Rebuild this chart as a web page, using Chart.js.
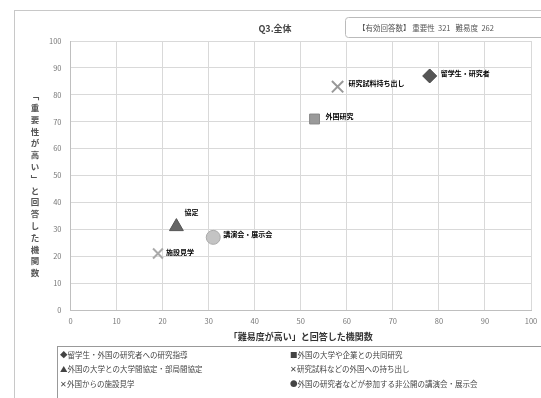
<!DOCTYPE html>
<html>
<head>
<meta charset="utf-8">
<script src="https://cdn.jsdelivr.net/npm/chart.js@4"></script>
<style>
  html, body { margin: 0; padding: 0; background: #fff; }
  #wrap { position: relative; width: 541px; height: 398px; }
  canvas { display: block; }
</style>
</head>
<body>
<div id="wrap"><canvas id="chart" width="541" height="398"></canvas></div>
<script>
// series: x = 難易度, y = 重要性
const seriesNames = [
  "留学生・外国の研究者への研究指導",
  "外国の大学や企業との共同研究",
  "外国の大学との大学間協定・部局間協定",
  "研究試料などの外国への持ち出し",
  "外国からの施設見学",
  "外国の研究者などが参加する非公開の講演会・展示会"
];
const shortNames = ["留学生・研究者", "外国研究", "協定", "研究試料持ち出し", "施設見学", "講演会・展示会"];
const difficulty = [78, 53, 23, 58, 19, 31];
const importance = [87, 71, 31, 83, 21, 27];
const axisTicks = [0, 10, 20, 30, 40, 50, 60, 70, 80, 90, 100];
const legendGlyphs = ["◆", "■", "▲", "✕", "✕", "●"];

const jp = "'Noto Sans CJK JP', 'Noto Sans', sans-serif";
const ctx = document.getElementById("chart").getContext("2d");

const styles = [
  { pointStyle: "rectRot", radius: 7, bg: "#555", border: "#444", bw: 1 },
  { pointStyle: "rect", radius: 7, bg: "#9a9a9a", border: "#888", bw: 1 },
  { pointStyle: "triangle", radius: 8, bg: "#666", border: "#555", bw: 1 },
  { pointStyle: "crossRot", radius: 8, bg: "#999", border: "#999", bw: 2 },
  { pointStyle: "crossRot", radius: 7, bg: "#aaa", border: "#aaa", bw: 2 },
  { pointStyle: "circle", radius: 7, bg: "#c4c4c4", border: "#aaa", bw: 1 }
];

const datasets = seriesNames.map((name, i) => ({
  label: name,
  data: [{ x: difficulty[i], y: importance[i] }],
  pointStyle: styles[i].pointStyle,
  pointRadius: styles[i].radius,
  pointBackgroundColor: styles[i].bg,
  pointBorderColor: styles[i].border,
  pointBorderWidth: styles[i].bw
}));

// titles, labels next to points, legend box
const decorations = {
  id: "decorations",
  afterDraw(chart) {
    const c = chart.ctx;
    const area = chart.chartArea;
    c.save();

    // outer frame
    c.strokeStyle = "#c8c8c8";
    c.lineWidth = 1;
    c.strokeRect(14.5, 10.5, 540, 400);

    // title
    c.fillStyle = "#444";
    c.font = "bold 9px " + jp;
    c.textAlign = "center";
    c.textBaseline = "middle";
    c.fillText("Q3.全体", 275, 29);

    // respondent count box
    c.strokeStyle = "#bbb";
    c.beginPath();
    c.roundRect(345.5, 17.5, 210, 20, 3);
    c.stroke();
    c.fillStyle = "#555";
    c.font = "7.5px " + jp;
    c.textAlign = "left";
    c.fillText("【有効回答数】 重要性  321   難易度  262", 358, 28);

    // point labels
    c.fillStyle = "#000";
    c.font = "bold 7px " + jp;
    chart.data.datasets.forEach((ds, i) => {
      const pt = chart.getDatasetMeta(i).data[0];
      let dx = 11, dy = -3;
      if (i === 2) { dx = 8; dy = -14; }
      if (i === 4) { dx = 8; dy = -1; }
      if (i === 5) { dx = 10; dy = -3; }
      c.fillText(shortNames[i], pt.x + dx, pt.y + dy);
    });

    // y axis title, stacked vertically
    const yTitle = "﹁重要性が高い﹂と回答した機関数";
    c.fillStyle = "#555";
    c.font = "bold 8.5px " + jp;
    c.textAlign = "center";
    [...yTitle].forEach((ch, k) => c.fillText(ch, 35, 96 + k * 11.8));

    // x axis title
    c.font = "bold 9px " + jp;
    c.fillStyle = "#333";
    c.fillText("「難易度が高い」と回答した機関数", (area.left + area.right) / 2, 337);

    // legend
    c.strokeStyle = "#999";
    c.strokeRect(57.5, 346.5, 490, 60);
    c.font = "7.5px " + jp;
    c.textAlign = "left";
    c.fillStyle = "#444";
    seriesNames.forEach((name, i) => {
      const col = i % 2, row = Math.floor(i / 2);
      c.fillText(legendGlyphs[i] + name, col ? 290 : 60, 355 + row * 14.5);
    });

    c.restore();
  }
};

new Chart(ctx, {
  type: "scatter",
  data: { datasets },
  options: {
    responsive: false,
    animation: false,
    layout: { padding: { left: 40, right: 0, top: 41, bottom: 65 } },
    plugins: { legend: { display: false }, tooltip: { enabled: false } },
    scales: {
      x: {
        min: 0, max: 100,
        afterBuildTicks: s => { s.ticks = axisTicks.map(v => ({ value: v })); },
        afterFit: s => { s.paddingRight = 5; },
        grid: { color: "#d9d9d9", drawTicks: false },
        border: { color: "#bfbfbf" },
        ticks: { color: "#777", font: { size: 7.5, family: jp }, padding: 7 }
      },
      y: {
        min: 0, max: 100,
        afterBuildTicks: s => { s.ticks = axisTicks.map(v => ({ value: v })); },
        grid: { color: "#d9d9d9", drawTicks: false },
        border: { color: "#bfbfbf" },
        ticks: { color: "#777", font: { size: 7.5, family: jp }, padding: 9 }
      }
    }
  },
  plugins: [decorations]
});
</script>
</body>
</html>
